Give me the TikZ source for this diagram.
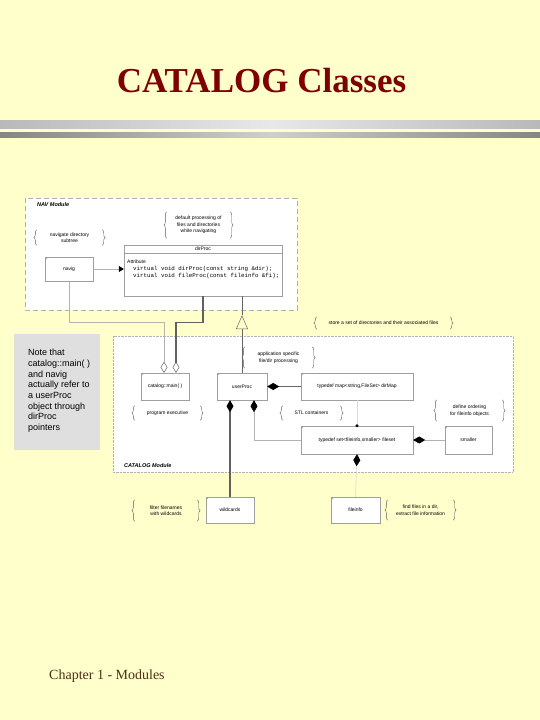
\documentclass[tikz,border=0pt]{standalone}
\usepackage{fontspec}
\setmainfont{Liberation Serif}
\setsansfont{Liberation Sans}
\setmonofont{Liberation Mono}
\usetikzlibrary{arrows.meta,decorations.pathreplacing}
\definecolor{slidebg}{HTML}{FFFFCC}
\definecolor{titlered}{HTML}{7F0000}
\definecolor{footbrown}{HTML}{503018}

\begin{document}
\begin{tikzpicture}[x=1pt,y=-1pt,
    font=\sffamily\fontsize{5}{6.5}\selectfont,
    cls/.style 2 args={draw=gray!75, fill=white, minimum width=#1pt, minimum height=#2pt, inner sep=0pt,
      path picture={\draw[gray!75] ([yshift=-3pt]path picture bounding box.north west) -- ++(3pt,3pt);}},
    cmt/.style 2 args={minimum width=#1pt, minimum height=#2pt, inner sep=0pt, align=center},
    brc/.style={draw=gray!70!black, line width=0.4pt, decorate, decoration={brace,amplitude=3pt}},
    modlabel/.style={anchor=west, inner sep=0pt, font=\sffamily\bfseries\itshape\fontsize{5.5}{6}\selectfont},
    palewire/.style={draw=gray!30, line width=0.6pt},
    lightwire/.style={draw=gray!60, line width=0.6pt},
    darkwire/.style={draw=black!60, line width=0.6pt},
    heavywire/.style={draw=black!62, line width=1.3pt},
    hollowdia/.style={-{Diamond[open,length=11pt,width=7pt,line width=0.5pt,black!60]}},
    soliddia/.style={-{Diamond[length=12pt,width=7pt,black]}},
    hollowtri/.style={-{Triangle[open,length=14pt,width=12pt,line width=0.5pt,black!60]}},
    solidtri/.style={-{Triangle[length=5pt,width=6pt,black]}}]

  % slide
  \fill[slidebg] (0,0) rectangle (540,720);
  \useasboundingbox (0,0) rectangle (540,720);
  \node[anchor=base, inner sep=0pt, text=titlered, font=\rmfamily\bfseries\fontsize{35}{40}\selectfont]
    (title) at (261.5,92) {CATALOG Classes};
  \shade[left color=gray!55, right color=gray!55, middle color=gray!18] (0,120) rectangle (540,128);
  \shade[left color=gray!95, right color=gray!95, middle color=gray!38] (0,132) rectangle (540,137);
  \node[anchor=base west, inner sep=0pt, text=footbrown, font=\rmfamily\fontsize{14}{16}\selectfont]
    (footer) at (49,679) {Chapter 1 - Modules};

  % modules
  \draw[gray!60, fill=white, dash pattern=on 5pt off 3pt] (25,198) rectangle (297,310);
  \draw[gray!60, fill=white, densely dotted] (113,336) rectangle (513,472);
  \node[modlabel] (navmod) at (37,205) {NAV Module};
  \node[modlabel] (catmod) at (124,466) {CATALOG Module};

  % note
  \fill[gray!25] (14,334) rectangle (100,450);
  \node[anchor=north west, inner sep=0pt, align=left, font=\sffamily\fontsize{9}{10.7}\selectfont]
    (note) at (28,349) {Note that\\catalog::main( )\\and navig\\actually refer to\\a userProc\\object through\\dirProc\\pointers};

  % classes
  \node[cls={48}{24}] (navig) at (69,269) {navig};
  \node[draw=gray!75, fill=white, minimum width=158pt, minimum height=51pt, inner sep=0pt] (dirProc) at (203,270.5) {};
  \draw[gray!75] ([yshift=-8pt]dirProc.north west) -- ([yshift=-8pt]dirProc.north east);
  \node[inner sep=0pt] (dirProcName) at ([yshift=-4pt]dirProc.north) {dirProc};
  \node[anchor=west, inner sep=0pt] (attr) at (127,262) {Attribute};
  \node[anchor=north west, inner sep=0pt, align=left, font=\ttfamily\fontsize{5.8}{7}\selectfont]
    (ops) at (133,266) {virtual void dirProc(const string \&dir);\\virtual void fileProc(const fileinfo \&fi);};

  \node[cls={48}{27}] (catmain) at (165,386.5) {catalog::main( )};
  \node[cls={50}{27}] (userProc) at (242,386.5) {userProc};
  \node[cls={112}{27}] (dirMap) at (357,386.5) {typedef map<string,FileSet> dirMap};
  \node[cls={112}{28}] (fileset) at (357,440) {typedef set<fileinfo,smaller> fileset};
  \node[cls={47}{28}] (smaller) at (468.5,440) {smaller};
  \node[cls={48}{26}] (wildcards) at (230,510) {wildcards};
  \node[cls={49}{26}] (fileinfo) at (355.5,510) {fileinfo};

  % comments
  \node[cmt={65}{15}] (navdir) at (69.5,237.5) {navigate directory\\subtree};
  \node[cmt={63}{26}] (default) at (198.5,225) {default processing of\\files and directories\\while navigating};
  \node[cmt={133}{12}] (store) at (383.5,323) {store a set of directories and their associated files};
  \node[cmt={67}{21}] (app) at (278.5,357.5) {application specific\\file/dir processing};
  \node[cmt={65}{14}] (prog) at (167.5,413) {program executive};
  \node[cmt={57}{14}] (stl) at (311.5,413) {STL containers};
  \node[cmt={65}{21}] (order) at (469.5,410.5) {define ordering\\for fileinfo objects};
  \node[cmt={62}{21}] (filter) at (166,510.5) {filter filenames\\with wildcards};
  \node[cmt={65}{20}] (find) at (420.5,510) {find files in a dir,\\extract file information};
  \foreach \c in {navdir,default,store,app,prog,stl,order,filter,find} {
    \draw[brc] (\c.south west) -- (\c.north west);
    \draw[brc] (\c.north east) -- (\c.south east);
  }

  % relations
  \draw[lightwire, solidtri] (navig) -- (navig -| dirProc.west);
  \draw[lightwire, hollowdia] (navig.south) -- ++(0,41) -| ([xshift=-1pt]catmain.north);
  \draw[heavywire, hollowdia] (dirProc.south) -- ++(0,26) -| ([xshift=11pt]catmain.north);
  \coordinate (genpt) at ([yshift=-19pt]dirProc.south -| userProc.north);
  \draw[darkwire, hollowtri] (userProc.north) -- (genpt);
  \draw[darkwire] (genpt) -- (genpt |- dirProc.south);
  \draw[darkwire, soliddia] (dirMap.west) -- (userProc.east);
  \draw[heavywire, soliddia] (wildcards.north) -- (wildcards.north |- userProc.south);
  \draw[lightwire, soliddia] (fileset.west) -| ([xshift=12pt]userProc.south);
  \draw[palewire] (dirMap.south) -- (fileset.north);
  \fill (fileset.north) circle (1.6);
  \draw[lightwire, soliddia] (smaller.west) -- (fileset.east);
  \draw[palewire, soliddia] (fileinfo.north) -- (fileset.south);
\end{tikzpicture}
\end{document}
